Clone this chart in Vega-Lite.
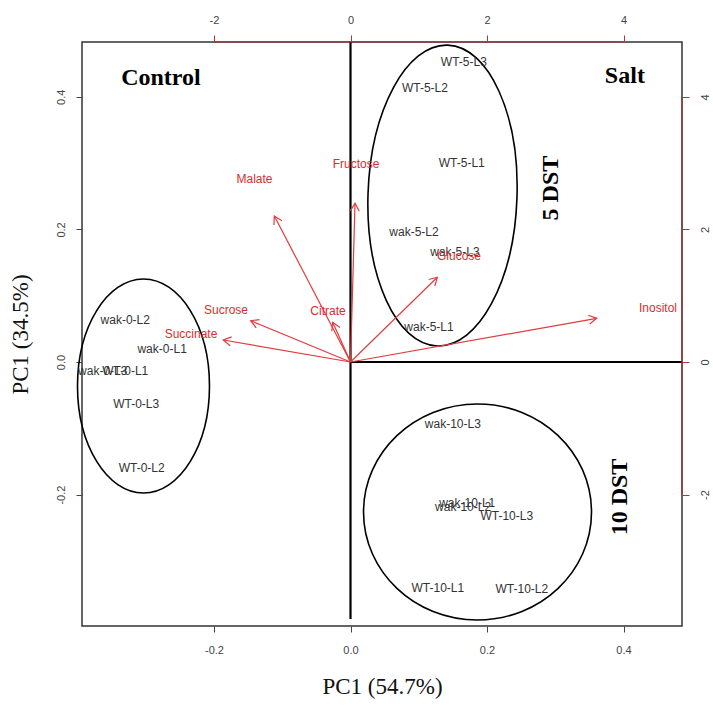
{
  "$schema": "https://vega.github.io/schema/vega-lite/v6.json",
  "autosize": {"type": "none"},
  "padding": {"left": 82, "top": 42, "right": 31, "bottom": 81},
  "width": 600,
  "height": 584,
  "background": "white",
  "config": {"view": {"stroke": "#333333", "strokeWidth": 1.5}},
  "datasets": {
    "samples": [
      {"label": "wak-0-L2", "x": -0.330, "y": 0.0633},
      {"label": "wak-0-L1", "x": -0.276, "y": 0.0196},
      {"label": "wak-0-L3", "x": -0.363, "y": -0.0136},
      {"label": "WT-0-L1", "x": -0.330, "y": -0.0136},
      {"label": "WT-0-L3", "x": -0.314, "y": -0.0633},
      {"label": "WT-0-L2", "x": -0.306, "y": -0.1604},
      {"label": "WT-5-L3", "x": 0.166, "y": 0.4525},
      {"label": "WT-5-L2", "x": 0.109, "y": 0.4133},
      {"label": "WT-5-L1", "x": 0.163, "y": 0.300},
      {"label": "wak-5-L2", "x": 0.093, "y": 0.196},
      {"label": "wak-5-L3", "x": 0.153, "y": 0.166},
      {"label": "wak-5-L1", "x": 0.115, "y": 0.0528},
      {"label": "wak-10-L3", "x": 0.150, "y": -0.0935},
      {"label": "wak-10-L1", "x": 0.171, "y": -0.2127},
      {"label": "wak-10-L2", "x": 0.165, "y": -0.2187},
      {"label": "WT-10-L3", "x": 0.229, "y": -0.2323},
      {"label": "WT-10-L1", "x": 0.128, "y": -0.3409},
      {"label": "WT-10-L2", "x": 0.251, "y": -0.3424}
    ],
    "loadings": [
      {"name": "Malate", "ox": 0, "oy": 0, "lx": -1.407, "ly": 2.753, "tx": -1.116, "ty": 2.202},
      {"name": "Fructose", "ox": 0, "oy": 0, "lx": 0.081, "ly": 2.994, "tx": 0.066, "ty": 2.394},
      {"name": "Sucrose", "ox": 0, "oy": 0, "lx": -1.824, "ly": 0.784, "tx": -1.462, "ty": 0.623},
      {"name": "Succinate", "ox": 0, "oy": 0, "lx": -2.337, "ly": 0.415, "tx": -1.864, "ty": 0.332},
      {"name": "Citrate", "ox": 0, "oy": 0, "lx": -0.330, "ly": 0.762, "tx": -0.261, "ty": 0.599},
      {"name": "Glucose", "ox": 0, "oy": 0, "lx": 1.590, "ly": 1.599, "tx": 1.272, "ty": 1.278},
      {"name": "Inositol", "ox": 0, "oy": 0, "lx": 4.505, "ly": 0.814, "tx": 3.607, "ty": 0.659}
    ]
  },
  "layer": [
    {
      "resolve": {"axis": {"x": "independent", "y": "independent"}},
      "layer": [
        {
          "data": {"values": [
            {"x": 0, "y": 0.4827, "x2": 0, "y2": -0.3876},
            {"x": 0, "y": 0, "x2": 0.4857, "y2": 0}
          ]},
          "mark": {"type": "rule", "color": "black", "strokeWidth": 2.2},
          "encoding": {
            "x": {"field": "x", "type": "quantitative", "scale": {"domain": [-0.3934, 0.4857], "nice": false, "zero": false},
              "axis": {"orient": "bottom", "values": [-0.2, 0, 0.2, 0.4],
                "labelExpr": "datum.value < 0 ? '-' + format(-datum.value, '.1f') : format(datum.value, '.1f')",
                "grid": false, "domain": false,
                "tickColor": "#444", "tickSize": 6, "labelFont": "Liberation Sans", "labelFontSize": 11, "labelColor": "#444",
                "labelPadding": 12, "title": "PC1 (54.7%)", "titleFont": "Liberation Serif", "titleFontSize": 23,
                "titleFontWeight": "normal", "titleColor": "#111", "titlePadding": 20}},
            "y": {"field": "y", "type": "quantitative", "scale": {"domain": [-0.3982, 0.4827], "nice": false, "zero": false},
              "axis": {"orient": "left", "values": [-0.2, 0, 0.2, 0.4],
                "labelExpr": "datum.value < 0 ? '-' + format(-datum.value, '.1f') : format(datum.value, '.1f')",
                "grid": false, "domain": false,
                "tickColor": "#444", "tickSize": 6, "labelFont": "Liberation Sans", "labelFontSize": 11, "labelColor": "#444",
                "labelAngle": 270, "labelAlign": "center", "labelBaseline": "bottom", "labelPadding": 10,
                "title": "PC1 (34.5%)", "titleFont": "Liberation Serif", "titleFontSize": 23,
                "titleFontWeight": "normal", "titleColor": "#111", "titlePadding": 23}},
            "x2": {"field": "x2"},
            "y2": {"field": "y2"}
          }
        },
        {
          "data": {"values": [{"group": "Control", "x": -0.3033, "y": -0.0362}]},
          "mark": {"type": "point", "filled": false, "stroke": "black", "strokeWidth": 1.6, "opacity": 1, "size": 45796,
            "shape": "M 0.6168 0 C 0.6168 0.5523 0.3407 1 0 1 C -0.3407 1 -0.6168 0.5523 -0.6168 0 C -0.6168 -0.5523 -0.3407 -1 0 -1 C 0.3407 -1 0.6168 -0.5523 0.6168 0 Z"},
          "encoding": {
            "x": {"field": "x", "type": "quantitative", "scale": {"domain": [-0.3934, 0.4857], "nice": false, "zero": false}, "axis": null},
            "y": {"field": "y", "type": "quantitative", "scale": {"domain": [-0.3982, 0.4827], "nice": false, "zero": false}, "axis": null}
          }
        },
        {
          "data": {"values": [{"group": "5 DST", "x": 0.1348, "y": 0.2511}]},
          "mark": {"type": "point", "filled": false, "stroke": "black", "strokeWidth": 1.6, "opacity": 1, "size": 90601, "angle": 2,
            "shape": "M 0.495 0 C 0.495 0.5523 0.2734 1 0 1 C -0.2734 1 -0.495 0.5523 -0.495 0 C -0.495 -0.5523 -0.2734 -1 0 -1 C 0.2734 -1 0.495 -0.5523 0.495 0 Z"},
          "encoding": {
            "x": {"field": "x", "type": "quantitative", "scale": {"domain": [-0.3934, 0.4857], "nice": false, "zero": false}, "axis": null},
            "y": {"field": "y", "type": "quantitative", "scale": {"domain": [-0.3982, 0.4827], "nice": false, "zero": false}, "axis": null}
          }
        },
        {
          "data": {"values": [{"group": "10 DST", "x": 0.1861, "y": -0.2262}]},
          "mark": {"type": "point", "filled": false, "stroke": "black", "strokeWidth": 1.6, "opacity": 1, "size": 51984,
            "shape": "M 1 0 C 1 0.5232 0.5523 0.9474 0 0.9474 C -0.5523 0.9474 -1 0.5232 -1 0 C -1 -0.5232 -0.5523 -0.9474 0 -0.9474 C 0.5523 -0.9474 1 -0.5232 1 0 Z"},
          "encoding": {
            "x": {"field": "x", "type": "quantitative", "scale": {"domain": [-0.3934, 0.4857], "nice": false, "zero": false}, "axis": null},
            "y": {"field": "y", "type": "quantitative", "scale": {"domain": [-0.3982, 0.4827], "nice": false, "zero": false}, "axis": null}
          }
        },
        {
          "data": {"name": "samples"},
          "mark": {"type": "text", "font": "Liberation Sans", "fontSize": 12, "color": "#333333", "align": "center", "baseline": "middle"},
          "encoding": {
            "x": {"field": "x", "type": "quantitative", "scale": {"domain": [-0.3934, 0.4857], "nice": false, "zero": false}, "axis": null},
            "y": {"field": "y", "type": "quantitative", "scale": {"domain": [-0.3982, 0.4827], "nice": false, "zero": false}, "axis": null},
            "text": {"field": "label"}
          }
        },
        {
          "data": {"values": [
            {"label": "Control", "x": -0.2777, "y": 0.4284},
            {"label": "Salt", "x": 0.402, "y": 0.4314}
          ]},
          "mark": {"type": "text", "font": "Liberation Serif", "fontSize": 24, "fontWeight": "bold", "color": "black", "align": "center", "baseline": "middle"},
          "encoding": {
            "x": {"field": "x", "type": "quantitative", "scale": {"domain": [-0.3934, 0.4857], "nice": false, "zero": false}, "axis": null},
            "y": {"field": "y", "type": "quantitative", "scale": {"domain": [-0.3982, 0.4827], "nice": false, "zero": false}, "axis": null},
            "text": {"field": "label"}
          }
        },
        {
          "data": {"values": [
            {"label": "5 DST", "x": 0.2938, "y": 0.2624},
            {"label": "10 DST", "x": 0.395, "y": -0.2036}
          ]},
          "mark": {"type": "text", "font": "Liberation Serif", "fontSize": 24, "fontWeight": "bold", "color": "black", "align": "center", "baseline": "middle", "angle": 270},
          "encoding": {
            "x": {"field": "x", "type": "quantitative", "scale": {"domain": [-0.3934, 0.4857], "nice": false, "zero": false}, "axis": null},
            "y": {"field": "y", "type": "quantitative", "scale": {"domain": [-0.3982, 0.4827], "nice": false, "zero": false}, "axis": null},
            "text": {"field": "label"}
          }
        }
      ]
    },
    {
      "resolve": {"axis": {"x": "independent", "y": "independent"}},
      "layer": [
        {
          "data": {"values": [
            {"x": -2, "y": 4.827, "x2": 4, "y2": 4.827},
            {"x": 4.857, "y": -2, "x2": 4.857, "y2": 4}
          ]},
          "mark": {"type": "rule", "color": "#a8323c", "strokeWidth": 1.2},
          "encoding": {
            "x": {"field": "x", "type": "quantitative", "scale": {"domain": [-3.934, 4.857], "nice": false, "zero": false},
              "axis": {"orient": "top", "values": [-2, 0, 2, 4],
                "labelExpr": "datum.value < 0 ? '-' + format(-datum.value, 'd') : format(datum.value, 'd')",
                "grid": false, "domain": false, "tickColor": "#b8303a",
                "tickSize": 7, "labelFont": "Liberation Sans", "labelFontSize": 11, "labelColor": "#444",
                "labelPadding": 10, "title": null}},
            "y": {"field": "y", "type": "quantitative", "scale": {"domain": [-3.982, 4.827], "nice": false, "zero": false},
              "axis": {"orient": "right", "values": [-2, 0, 2, 4],
                "labelExpr": "datum.value < 0 ? '-' + format(-datum.value, 'd') : format(datum.value, 'd')",
                "grid": false, "domain": false, "tickColor": "#b8303a",
                "tickSize": 7, "labelFont": "Liberation Sans", "labelFontSize": 11, "labelColor": "#444",
                "labelAngle": 270, "labelAlign": "center", "labelBaseline": "top", "labelPadding": 10, "title": null}},
            "x2": {"field": "x2"},
            "y2": {"field": "y2"}
          }
        },
        {
          "data": {"name": "loadings"},
          "mark": {"type": "rule", "color": "#e23c3f", "strokeWidth": 1.2},
          "encoding": {
            "x": {"field": "ox", "type": "quantitative", "scale": {"domain": [-3.934, 4.857], "nice": false, "zero": false}, "axis": null},
            "y": {"field": "oy", "type": "quantitative", "scale": {"domain": [-3.982, 4.827], "nice": false, "zero": false}, "axis": null},
            "x2": {"field": "tx"},
            "y2": {"field": "ty"}
          }
        },
        {
          "data": {"name": "loadings"},
          "transform": [{"calculate": "atan2(-datum.ty * 0.971, datum.tx) * 180 / PI", "as": "ang"}],
          "mark": {"type": "point", "filled": false, "stroke": "#e23c3f", "strokeWidth": 1.2, "opacity": 1, "size": 240,
            "shape": "M -1 -0.577 L 0 0 L -1 0.577"},
          "encoding": {
            "x": {"field": "tx", "type": "quantitative", "scale": {"domain": [-3.934, 4.857], "nice": false, "zero": false}, "axis": null},
            "y": {"field": "ty", "type": "quantitative", "scale": {"domain": [-3.982, 4.827], "nice": false, "zero": false}, "axis": null},
            "angle": {"field": "ang", "type": "quantitative", "scale": null}
          }
        },
        {
          "data": {"name": "loadings"},
          "mark": {"type": "text", "font": "Liberation Sans", "fontSize": 12, "color": "#dd2b2f", "align": "center", "baseline": "middle"},
          "encoding": {
            "x": {"field": "lx", "type": "quantitative", "scale": {"domain": [-3.934, 4.857], "nice": false, "zero": false}, "axis": null},
            "y": {"field": "ly", "type": "quantitative", "scale": {"domain": [-3.982, 4.827], "nice": false, "zero": false}, "axis": null},
            "text": {"field": "name"}
          }
        }
      ]
    }
  ],
  "resolve": {"scale": {"x": "independent", "y": "independent"}, "axis": {"x": "independent", "y": "independent"}}
}
